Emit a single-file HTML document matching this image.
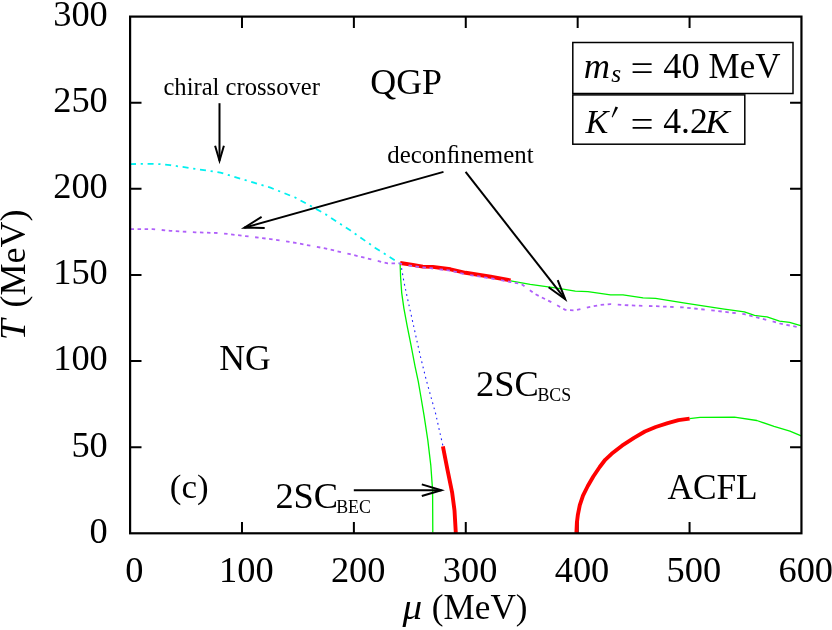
<!DOCTYPE html>
<html><head><meta charset="utf-8"><title>Phase diagram</title>
<style>
html,body{margin:0;padding:0;background:#fff;}
body{width:832px;height:630px;overflow:hidden;}
svg{display:block;will-change:transform;}
text{font-family:"Liberation Serif",serif;fill:#000;}
.i{font-style:italic;}
</style></head><body>
<svg width="832" height="630" viewBox="0 0 832 630">
<rect width="832" height="630" fill="#fff"/>
<!-- ticks -->
<path d="M241.99 533.30 v-11.4 M241.99 16.60 v11.4 M353.88 533.30 v-11.4 M353.88 16.60 v11.4 M465.77 533.30 v-11.4 M465.77 16.60 v11.4 M577.67 533.30 v-11.4 M577.67 16.60 v11.4 M689.56 533.30 v-11.4 M689.56 16.60 v11.4 M130.10 447.18 h11.4 M801.45 447.18 h-11.4 M130.10 361.07 h11.4 M801.45 361.07 h-11.4 M130.10 274.95 h11.4 M801.45 274.95 h-11.4 M130.10 188.83 h11.4 M801.45 188.83 h-11.4 M130.10 102.72 h11.4 M801.45 102.72 h-11.4" fill="none" stroke="#000" stroke-width="2"/>
<!-- curves -->
<g fill="none" stroke-linejoin="round">
<polyline points="400.1,263.2 400.6,277.2 401.7,292.8 403.9,308.3 407.2,326.1 411.2,346.1 415.0,366.1 418.3,381.7 420.6,395.0 424.0,415.1 427.8,440.2 430.8,465.3 432.6,490.4 432.8,532.5" stroke="#00f400" stroke-width="1.3"/>
<polyline points="510.6,280.8 530.2,284.3 555.3,287.8 575.3,291.1 587.9,291.6 610.5,294.8 623.0,294.8 643.1,297.8 655.6,298.3 686.7,303.4 724.3,309.1 744.4,311.9 754.5,315.4 767.0,316.9 779.5,321.2 789.6,322.4 801.5,325.9" stroke="#00f400" stroke-width="1.3"/>
<polyline points="689.6,418.6 700.0,417.4 734.4,417.2 756.8,420.5 774.0,426.4 789.9,431.1 801.2,435.9" stroke="#00f400" stroke-width="1.3"/>
<polyline points="400.6,263.0 401.0,265.0 403.9,281.7 407.2,297.2 411.2,315.0 416.1,337.2 420.6,357.2 426.1,379.4 430.1,393.9 435.7,413.8 439.3,430.1 442.9,445.7" stroke="#2020ff" stroke-width="1.1" stroke-dasharray="1.7 3.6"/>
<polyline points="130.5,164.1 145.0,163.8 160.1,164.1 170.2,165.1 195.3,168.9 220.4,172.6 245.4,180.1 270.5,187.7 295.6,197.7 320.7,211.5 325.1,214.0 350.2,230.3 375.3,247.9 399.1,262.9" stroke="#00f0f0" stroke-width="1.8" stroke-dasharray="6 4.7 2.2 4.7" stroke-dashoffset="0.5"/>
<polyline points="400.2,263.0 412.9,264.9 422.8,266.6 432.8,266.9 450.5,269.3 465.6,272.8 490.7,276.8 510.6,280.4" stroke="#ff0000" stroke-width="3.9"/>
<polyline points="442.9,446.4 447.6,470.3 452.2,492.9 454.5,510.4 455.8,532.8" stroke="#ff0000" stroke-width="3.9"/>
<polyline points="576.4,532.8 576.9,522.5 577.9,514.6 579.8,505.1 583.0,495.6 587.8,486.0 593.3,476.5 599.7,467.0 605.2,459.8 611.6,453.8 622.0,445.7 634.0,437.9 644.9,431.5 655.7,427.0 667.7,423.1 678.5,420.1 689.6,418.6" stroke="#ff0000" stroke-width="3.9"/>
<polyline points="130.5,229.1 152.6,229.1 170.2,230.8 195.3,232.3 220.4,233.1 245.4,236.1 270.5,239.1 295.6,242.9 325.1,248.4 350.2,254.2 375.3,260.4 387.8,263.4 399.0,263.4 412.9,266.2 430.5,268.2 450.5,270.7 465.6,274.4 490.7,278.3 510.6,282.0 521.4,284.0 535.2,294.1 552.8,302.9 565.3,309.9 575.3,310.4 587.9,307.4 600.4,304.9 610.5,304.1 630.5,305.4 655.6,306.2 683.2,307.4 711.8,310.3 744.4,314.2 762.0,318.7 779.5,323.3 801.0,327.9" stroke="#b060fa" stroke-width="1.8" stroke-dasharray="3.5 3.55 3.5 3.55 3.5 3.55 3.5 6.6"/>
</g>
<!-- frame -->
<rect x="130.1" y="16.6" width="671.35" height="516.6999999999999" fill="none" stroke="#000" stroke-width="2.2"/>
<!-- arrows -->
<g fill="none" stroke="#000" stroke-width="2" stroke-linejoin="miter">
<path d="M219.5 103.2 L219.5 160.7"/><path d="M223.9 145.8 L219.5 160.7 L215.1 145.8"/>
<path d="M443.5 171.9 L244.3 227.7"/><path d="M264.7 228.0 L244.3 227.7 L261.6 216.9"/>
<path d="M465.6 171.9 L565.2 299.2"/><path d="M557.7 280.2 L565.2 299.2 L548.6 287.3"/>
<path d="M353.8 490.2 L441.4 490.2"/><path d="M421.8 484.4 L441.4 490.2 L421.8 496.0"/>
</g>
<!-- legend boxes -->
<g fill="#fff" stroke="#000" stroke-width="1.5">
<rect x="572.8" y="42.5" width="220.2" height="51"/>
<rect x="572.8" y="94.9" width="172" height="49.3"/>
</g>
<!-- tick labels -->
<text transform="translate(107.80,542.65) scale(1.040,1.030)" font-size="35" text-anchor="end">0</text><text transform="translate(107.80,456.53) scale(1.040,1.030)" font-size="35" text-anchor="end">50</text><text transform="translate(107.80,370.42) scale(1.040,1.030)" font-size="35" text-anchor="end">100</text><text transform="translate(107.80,284.30) scale(1.040,1.030)" font-size="35" text-anchor="end">150</text><text transform="translate(107.80,198.18) scale(1.040,1.030)" font-size="35" text-anchor="end">200</text><text transform="translate(107.80,112.07) scale(1.040,1.030)" font-size="35" text-anchor="end">250</text><text transform="translate(107.80,25.95) scale(1.040,1.030)" font-size="35" text-anchor="end">300</text>
<text transform="translate(134.40,581.50) scale(1.040,1.030)" font-size="35" text-anchor="middle">0</text><text transform="translate(246.29,581.50) scale(1.040,1.030)" font-size="35" text-anchor="middle">100</text><text transform="translate(358.18,581.50) scale(1.040,1.030)" font-size="35" text-anchor="middle">200</text><text transform="translate(470.07,581.50) scale(1.040,1.030)" font-size="35" text-anchor="middle">300</text><text transform="translate(581.97,581.50) scale(1.040,1.030)" font-size="35" text-anchor="middle">400</text><text transform="translate(693.86,581.50) scale(1.040,1.030)" font-size="35" text-anchor="middle">500</text><text transform="translate(805.75,581.50) scale(1.040,1.030)" font-size="35" text-anchor="middle">600</text>
<!-- axis labels -->
<text transform="translate(402.60,619.20) scale(1.120,1.010)" font-size="35" class="i">μ</text>
<text transform="translate(431.80,619.20) scale(1.005,1.010)" font-size="35">(MeV)</text>
<text transform="translate(25.00,340.20) rotate(-90) scale(1.070,1.010)" font-size="35" class="i">T</text>
<text transform="translate(25.00,307.60) rotate(-90) scale(1.030,1.010)" font-size="35">(MeV)</text>
<!-- annotations -->
<text transform="translate(163.40,94.80) scale(1.005,1.010)" font-size="24.5">chiral crossover</text>
<text transform="translate(387.20,162.50) scale(1.015,1.010)" font-size="24.5">deconﬁnement</text>
<text transform="translate(370.20,94.10) scale(1.026,1.010)" font-size="35">QGP</text>
<text transform="translate(219.20,370.40) scale(1.020,1.010)" font-size="35">NG</text>
<text transform="translate(169.80,498.00) scale(1.000,0.980)" font-size="35">(c)</text>
<text transform="translate(275.40,507.70) scale(1.040,1.010)" font-size="35">2SC</text>
<text transform="translate(336.20,512.90) scale(1.020,1.120)" font-size="17.5">BEC</text>
<text transform="translate(476.10,395.70) scale(1.040,1.010)" font-size="35">2SC</text>
<text transform="translate(537.40,400.90) scale(1.020,1.120)" font-size="17.5">BCS</text>
<text transform="translate(667.40,499.30) scale(1.010,1.010)" font-size="35">ACFL</text>
<!-- legend text -->
<text transform="translate(583.80,77.70) scale(1.040,1.010)" font-size="35" class="i">m</text>
<text transform="translate(611.20,82.30) scale(1.040,1.010)" font-size="24.5" class="i">s</text>
<path d="M632.6 64.1h19M632.6 72.2h19" stroke="#000" stroke-width="1.7" fill="none"/>
<text transform="translate(663.20,77.70) scale(1.040,1.010)" font-size="35">40</text>
<text transform="translate(708.60,77.70) scale(1.000,1.010)" font-size="35">MeV</text>
<text transform="translate(585.50,133.00) scale(0.980,0.965)" font-size="35" class="i">K</text>
<path d="M615.5 106.5L618.1 107.5L612.5 117.4L611.7 117.0Z" fill="#000"/>
<path d="M632.6 119.9h19M632.6 127.9h19" stroke="#000" stroke-width="1.7" fill="none"/>
<text transform="translate(663.20,133.00) scale(1.020,1.010)" font-size="35">4.2</text>
<text transform="translate(705.00,133.00) scale(1.060,0.965)" font-size="35" class="i">K</text>
</svg>
</body></html>
